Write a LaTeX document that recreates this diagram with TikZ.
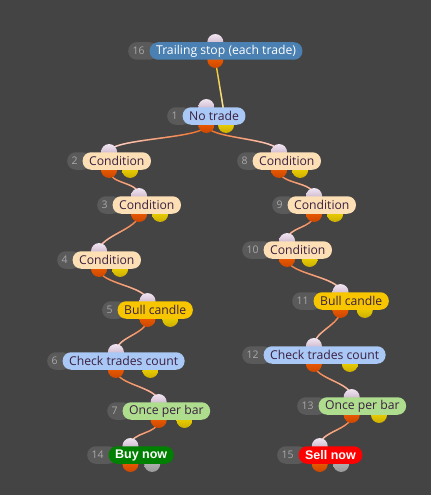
\documentclass[tikz,border=0pt]{standalone}
\usepackage{fontspec}
\setmainfont{Open Sans}
\newfontfamily\btnfont{Liberation Sans}
\usetikzlibrary{positioning, calc, fadings}

\definecolor{canvas}{HTML}{444444}
\definecolor{tagbg}{HTML}{5A5A5A}
\definecolor{tagtxt}{HTML}{A8A8A8}
\definecolor{ink}{HTML}{3A2040}
\definecolor{peach}{HTML}{FDDFB6}
\definecolor{skyblue}{HTML}{A9C8F5}
\definecolor{gold}{HTML}{F7C600}
\definecolor{leaf}{HTML}{AEDD8E}
\definecolor{steel}{HTML}{4A80B2}
\definecolor{buygreen}{HTML}{008000}
\definecolor{sellred}{HTML}{FF0000}
\definecolor{wireorange}{HTML}{F26A1E}
\definecolor{wirepink}{HTML}{F4DCE2}
\definecolor{wireyellow}{HTML}{F2C21A}
\definecolor{wirecream}{HTML}{FAF2DA}

\tikzfading[name=tip south, top color=transparent!100, middle color=transparent!100, bottom color=transparent!0]
\tikzfading[name=tip west, right color=transparent!100, middle color=transparent!100, left color=transparent!0]
\tikzfading[name=tip east, left color=transparent!100, middle color=transparent!100, right color=transparent!0]

\pgfdeclarelayer{bg}
\pgfdeclarelayer{wires}
\pgfdeclarelayer{ports}
\pgfsetlayers{bg,wires,ports,main}

\begin{document}
\begin{tikzpicture}[
        x=1pt, y=-1pt,
        tag/.style={rectangle, rounded corners=8.5pt, minimum height=17.5pt, inner xsep=4.5pt, inner ysep=0pt, fill=tagbg, text=tagtxt, font=\fontsize{10.5}{12}\selectfont, anchor=west},
        lbl/.style={rectangle, rounded corners=8.5pt, minimum height=17.5pt, inner xsep=6.5pt, inner ysep=0pt, text=ink, font=\fontsize{12.2}{14}\selectfont},
        btn/.style={lbl, text=white, font=\btnfont\bfseries\fontsize{12.5}{14}\selectfont},
        inport/.style={circle, minimum size=16pt, inner sep=0pt, top color=white!90!violet, bottom color=gray!70!violet!60},
        outport/.style={circle, minimum size=16pt, inner sep=0pt, top color=orange!80!red, bottom color=orange!70!red!80!black},
        yport/.style={circle, minimum size=16pt, inner sep=0pt, top color=yellow!80!orange, bottom color=yellow!70!orange!80!black},
        gport/.style={circle, minimum size=16pt, inner sep=0pt, top color=gray!50, bottom color=gray!80},
        wire/.style={draw=wireorange, line width=1.4pt, postaction={draw=wirepink, line width=1.4pt, path fading=#1}},
        wire/.default=tip south,
        yline/.style={draw=wireyellow, line width=1.4pt, postaction={draw=wirecream, line width=1.4pt, path fading=north}}
        ]
        \useasboundingbox (0,0) rectangle (431,495);
        \begin{pgfonlayer}{bg}
            \fill[canvas] (0,0) rectangle (431,495);
        \end{pgfonlayer}

        % nodes
        \node[tag] (k16) at (128,51) {16\hspace*{9pt}};
        \node[lbl, fill=steel, text=white, right=-9pt of k16] (n16) {Trailing stop (each trade)};
        \node[tag] (k1) at (167,116) {1\hspace*{9pt}};
        \node[lbl, fill=skyblue, right=-9pt of k1] (n1) {No trade};
        \node[tag] (k2) at (67,161) {2\hspace*{9pt}};
        \node[lbl, fill=peach, right=-9pt of k2] (n2) {Condition};
        \node[tag] (k3) at (97,205) {3\hspace*{9pt}};
        \node[lbl, fill=peach, right=-9pt of k3] (n3) {Condition};
        \node[tag] (k4) at (57,260) {4\hspace*{9pt}};
        \node[lbl, fill=peach, right=-9pt of k4] (n4) {Condition};
        \node[tag] (k5) at (102,310) {5\hspace*{9pt}};
        \node[lbl, fill=gold, right=-9pt of k5] (n5) {Bull candle};
        \node[tag] (k6) at (47,361) {6\hspace*{9pt}};
        \node[lbl, fill=skyblue, right=-9pt of k6] (n6) {Check trades count};
        \node[tag] (k7) at (107,411) {7\hspace*{9pt}};
        \node[lbl, fill=leaf, right=-9pt of k7] (n7) {Once per bar};
        \node[tag] (k14) at (87,455) {14\hspace*{9pt}};
        \node[btn, fill=buygreen, right=-9pt of k14] (n14) {Buy now};
        \node[tag] (k8) at (237,161) {8\hspace*{9pt}};
        \node[lbl, fill=peach, right=-9pt of k8] (n8) {Condition};
        \node[tag] (k9) at (272,205) {9\hspace*{9pt}};
        \node[lbl, fill=peach, right=-9pt of k9] (n9) {Condition};
        \node[tag] (k10) at (242,250) {10\hspace*{9pt}};
        \node[lbl, fill=peach, right=-9pt of k10] (n10) {Condition};
        \node[tag] (k11) at (292,301) {11\hspace*{9pt}};
        \node[lbl, fill=gold, right=-9pt of k11] (n11) {Bull candle};
        \node[tag] (k12) at (242,355) {12\hspace*{9pt}};
        \node[lbl, fill=skyblue, right=-9pt of k12] (n12) {Check trades count};
        \node[tag] (k13) at (297,406) {13\hspace*{9pt}};
        \node[lbl, fill=leaf, right=-9pt of k13] (n13) {Once per bar};
        \node[tag] (k15) at (277,455) {15\hspace*{9pt}};
        \node[btn, fill=sellred, right=-9pt of k15] (n15) {Sell now};

        % ports
        \begin{pgfonlayer}{ports}
            \foreach \k in {16,1,2,3,4,5,6,7,8,9,10,11,12,13,14,15} {
                \coordinate (m\k) at ($(k\k.west)!0.5!(n\k.east)$);
                \node[inport] (i\k) at (m\k |- n\k.north) {};
                \node[outport] (o\k) at (m\k |- n\k.south) {};
            }
            \foreach \k/\c in {1/yport,2/yport,3/yport,4/yport,5/yport,6/yport,7/yport,8/yport,9/yport,10/yport,11/yport,12/yport,13/yport,14/gport,15/gport} {
                \coordinate (r\k) at ($(k\k.west)!0.75!(n\k.east)$);
                \node[\c] (y\k) at (r\k |- n\k.south) {};
            }
        \end{pgfonlayer}

        % wires
        \begin{pgfonlayer}{wires}
            \draw[yline] (o16.center) -- (y1.center);
            \draw[wire=tip west] (o1.center) .. controls +(0,14) and +(0,-14) .. (i2.center);
            \draw[wire=tip east] (o1.center) .. controls +(0,14) and +(0,-14) .. (i8.center);
            \draw[wire] (o2.center) .. controls +(0,15) and +(0,-15) .. (i3.center);
            \draw[wire] (o3.center) .. controls +(0,15) and +(0,-15) .. (i4.center);
            \draw[wire] (o4.center) .. controls +(0,15) and +(0,-15) .. (i5.center);
            \draw[wire] (o5.center) .. controls +(0,15) and +(0,-15) .. (i6.center);
            \draw[wire] (o6.center) .. controls +(0,15) and +(0,-15) .. (i7.center);
            \draw[wire] (o7.center) .. controls +(0,15) and +(0,-15) .. (i14.center);
            \draw[wire] (o8.center) .. controls +(0,15) and +(0,-15) .. (i9.center);
            \draw[wire] (o9.center) .. controls +(0,15) and +(0,-15) .. (i10.center);
            \draw[wire] (o10.center) .. controls +(0,15) and +(0,-15) .. (i11.center);
            \draw[wire] (o11.center) .. controls +(0,15) and +(0,-15) .. (i12.center);
            \draw[wire] (o12.center) .. controls +(0,15) and +(0,-15) .. (i13.center);
            \draw[wire] (o13.center) .. controls +(0,15) and +(0,-15) .. (i15.center);
        \end{pgfonlayer}
    \end{tikzpicture}
\end{document}
